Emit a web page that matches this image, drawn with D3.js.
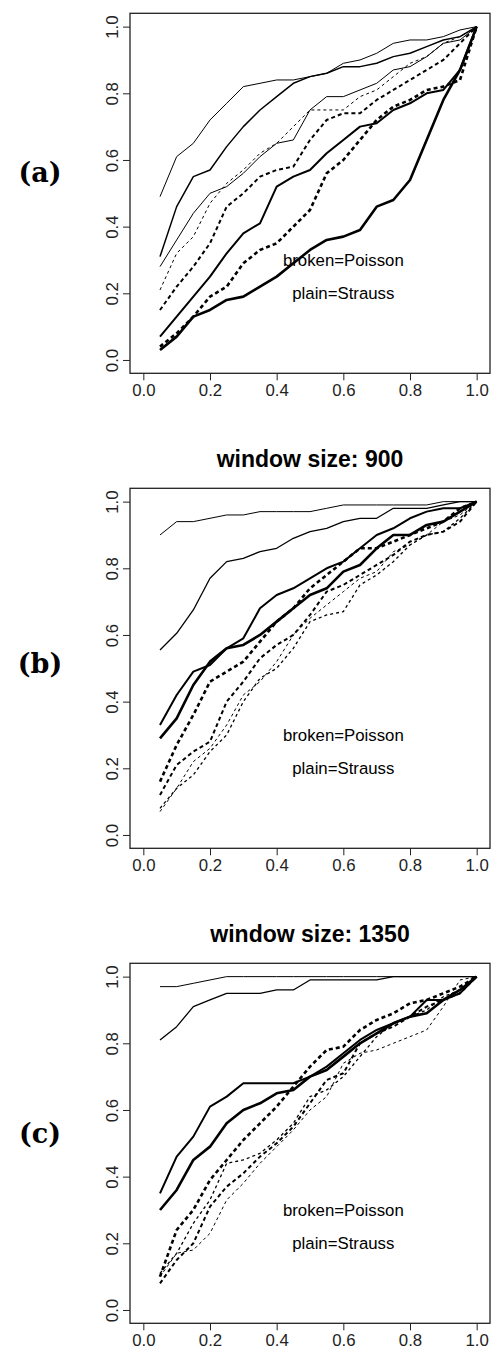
<!DOCTYPE html>
<html lang="en">
  <head>
    <meta charset="UTF-8" />
    <title>Strauss vs Poisson</title>
    <script src="https://d3js.org/d3.v7.min.js"></script>
    <style>
      body { margin: 0; background: #fff; }
      .axis path, .axis line { stroke: #222; }
      .axis text { font-family: 'Liberation Sans', Arial, sans-serif; font-size: 16.8px; fill: #222; }
    </style>
  </head>
  <body>
    <div id="chart-container"></div>
    <script>
      // probability levels on the x axis
      const probs = [0.05, 0.10, 0.15, 0.20, 0.25, 0.30, 0.35, 0.40, 0.45, 0.50,
                     0.55, 0.60, 0.65, 0.70, 0.75, 0.80, 0.85, 0.90, 0.95, 1.00];
      const tickVals = [0.0, 0.2, 0.4, 0.6, 0.8, 1.0];
      const panelLabels = ['(a)', '(b)', '(c)'];
      const panelTitles = ['', 'window size: 900', 'window size: 1350'];

      // panel (a)
      const aStrauss1 = [0.49,0.61,0.65,0.72,0.77,0.82,0.83,0.84,0.84,0.85,0.86,0.89,0.90,0.92,0.95,0.96,0.96,0.97,0.99,1.00];
      const aStrauss2 = [0.31,0.46,0.55,0.57,0.64,0.70,0.75,0.79,0.83,0.85,0.86,0.88,0.88,0.89,0.91,0.92,0.94,0.96,0.97,1.00];
      const aStrauss3 = [0.28,0.36,0.44,0.50,0.52,0.56,0.61,0.65,0.66,0.75,0.79,0.79,0.81,0.83,0.87,0.88,0.91,0.95,0.96,1.00];
      const aStrauss4 = [0.07,0.13,0.19,0.25,0.32,0.38,0.41,0.52,0.55,0.57,0.62,0.66,0.70,0.71,0.75,0.77,0.80,0.81,0.87,1.00];
      const aStrauss5 = [0.03,0.07,0.13,0.15,0.18,0.19,0.22,0.25,0.29,0.33,0.36,0.37,0.39,0.46,0.48,0.54,0.66,0.78,0.87,1.00];
      const aPoisson1 = [0.21,0.32,0.37,0.47,0.53,0.57,0.62,0.65,0.70,0.75,0.75,0.75,0.79,0.81,0.85,0.89,0.91,0.95,0.97,1.00];
      const aPoisson2 = [0.15,0.22,0.28,0.35,0.46,0.50,0.55,0.57,0.58,0.66,0.72,0.74,0.74,0.78,0.81,0.84,0.87,0.90,0.95,1.00];
      const aPoisson3 = [0.04,0.08,0.13,0.19,0.22,0.29,0.33,0.35,0.40,0.45,0.56,0.60,0.66,0.72,0.76,0.78,0.81,0.82,0.84,1.00];

      // panel (b) window size 900
      const bStrauss1 = [0.90,0.94,0.94,0.95,0.96,0.96,0.97,0.97,0.97,0.97,0.98,0.99,0.99,0.99,0.99,0.99,0.99,1.00,1.00,1.00];
      const bStrauss2 = [0.555,0.605,0.675,0.77,0.82,0.83,0.85,0.86,0.89,0.91,0.92,0.94,0.95,0.95,0.98,0.98,0.98,0.99,1.00,1.00];
      const bStrauss3 = [0.33,0.42,0.49,0.51,0.56,0.59,0.68,0.72,0.74,0.77,0.80,0.82,0.86,0.90,0.92,0.95,0.97,0.98,0.98,1.00];
      const bStrauss4 = [0.29,0.35,0.45,0.52,0.56,0.57,0.60,0.64,0.68,0.72,0.74,0.79,0.81,0.86,0.90,0.90,0.93,0.94,0.97,1.00];
      const bPoisson1 = [0.16,0.27,0.36,0.46,0.49,0.52,0.58,0.64,0.68,0.74,0.78,0.82,0.86,0.86,0.88,0.90,0.92,0.94,0.98,1.00];
      const bPoisson2 = [0.12,0.21,0.25,0.28,0.40,0.46,0.53,0.57,0.60,0.66,0.73,0.75,0.78,0.81,0.84,0.88,0.90,0.91,0.94,1.00];
      const bPoisson3 = [0.08,0.14,0.18,0.25,0.30,0.40,0.47,0.50,0.56,0.64,0.66,0.67,0.75,0.78,0.82,0.87,0.90,0.91,0.95,1.00];
      const bPoisson4 = [0.07,0.14,0.22,0.26,0.33,0.42,0.46,0.52,0.60,0.65,0.69,0.73,0.77,0.79,0.85,0.87,0.90,0.94,0.96,1.00];

      // panel (c) window size 1350
      const cStrauss1 = [0.97,0.97,0.98,0.99,1.00,1.00,1.00,1.00,1.00,1.00,1.00,1.00,1.00,1.00,1.00,1.00,1.00,1.00,1.00,1.00];
      const cStrauss2 = [0.81,0.85,0.91,0.93,0.95,0.95,0.95,0.96,0.96,0.99,0.99,0.99,0.99,0.99,1.00,1.00,1.00,1.00,1.00,1.00];
      const cStrauss3 = [0.35,0.46,0.52,0.61,0.64,0.68,0.68,0.68,0.68,0.70,0.73,0.77,0.81,0.84,0.86,0.88,0.93,0.93,0.95,1.00];
      const cStrauss4 = [0.30,0.36,0.45,0.49,0.56,0.60,0.62,0.65,0.66,0.70,0.72,0.76,0.80,0.83,0.86,0.88,0.89,0.93,0.96,1.00];
      const cPoisson1 = [0.10,0.24,0.30,0.39,0.45,0.51,0.56,0.61,0.67,0.73,0.78,0.79,0.84,0.87,0.89,0.92,0.93,0.95,0.97,1.00];
      const cPoisson2 = [0.08,0.15,0.20,0.31,0.37,0.41,0.46,0.50,0.55,0.62,0.69,0.71,0.80,0.83,0.85,0.88,0.91,0.93,0.95,1.00];
      const cPoisson3 = [0.11,0.17,0.26,0.33,0.44,0.45,0.47,0.51,0.56,0.64,0.66,0.70,0.76,0.82,0.86,0.88,0.90,0.94,0.96,1.00];
      const cPoisson4 = [0.10,0.17,0.18,0.23,0.33,0.38,0.44,0.49,0.54,0.60,0.64,0.74,0.77,0.78,0.80,0.82,0.84,0.91,0.99,1.00];

      // line list per panel: [values, width, dashed]
      const panels = [
        [[aStrauss1, 1, false], [aStrauss2, 1.5, false], [aStrauss3, 1, false], [aStrauss4, 2, false],
         [aStrauss5, 2.6, false], [aPoisson1, 1, true], [aPoisson2, 2, true], [aPoisson3, 2.6, true]],
        [[bStrauss1, 1, false], [bStrauss2, 1.3, false], [bStrauss3, 2, false], [bStrauss4, 2.6, false],
         [bPoisson1, 2.6, true], [bPoisson2, 2, true], [bPoisson3, 1.3, true], [bPoisson4, 1, true]],
        [[cStrauss1, 1, false], [cStrauss2, 1.3, false], [cStrauss3, 2, false], [cStrauss4, 2.6, false],
         [cPoisson1, 2.6, true], [cPoisson2, 2, true], [cPoisson3, 1.3, true], [cPoisson4, 1, true]],
      ];

      const boxTops = [13.3, 488.3, 963.3];
      const labelY = [182, 673, 1143];
      const boxLeft = 130, boxSize = 360;

      const svg = d3.select('#chart-container')
        .append('svg')
        .attr('width', 492)
        .attr('height', 1352);

      const x = d3.scaleLinear().domain([-0.04, 1.04]).range([boxLeft, boxLeft + boxSize]);

      panels.forEach(function (lines, i) {
        const top = boxTops[i];
        const y = d3.scaleLinear().domain([-0.04, 1.04]).range([top + boxSize, top]);
        const g = svg.append('g');

        // series
        const line = d3.line()
          .x((d, k) => x(probs[k]))
          .y((d) => y(d));
        lines.forEach(function (s) {
          g.append('path')
            .datum(s[0])
            .attr('d', line)
            .attr('fill', 'none')
            .attr('stroke', '#000')
            .attr('stroke-width', s[1])
            .attr('stroke-linejoin', 'round')
            .attr('stroke-dasharray', s[2] ? (s[1] > 1.5 ? '4,3' : '3,3') : null);
        });

        // box
        g.append('rect')
          .attr('x', boxLeft)
          .attr('y', top)
          .attr('width', boxSize)
          .attr('height', boxSize)
          .attr('fill', 'none')
          .attr('stroke', '#222')
          .attr('stroke-width', 1.3);

        // axes
        const xAxis = g.append('g')
          .attr('class', 'axis')
          .attr('transform', `translate(0,${top + boxSize})`)
          .call(d3.axisBottom(x).tickValues(tickVals).tickFormat(d3.format('.1f')).tickSize(7).tickSizeOuter(0));
        xAxis.select('.domain').remove();
        xAxis.selectAll('text').attr('y', 23).attr('dy', 0);

        const yAxis = g.append('g')
          .attr('class', 'axis')
          .attr('transform', `translate(${boxLeft},0)`)
          .call(d3.axisLeft(y).tickValues(tickVals).tickFormat(d3.format('.1f')).tickSize(7).tickSizeOuter(0));
        yAxis.select('.domain').remove();
        yAxis.selectAll('text')
          .attr('x', 0)
          .attr('dy', 0)
          .attr('text-anchor', 'middle')
          .attr('transform', (d) => `translate(-12.5,0) rotate(-90)`);

        // legend text
        g.append('text')
          .attr('x', x(0.6))
          .attr('y', y(0.3))
          .attr('dy', '0.35em')
          .attr('text-anchor', 'middle')
          .style('font-family', "'Liberation Sans', Arial, sans-serif")
          .style('font-size', '16.8px')
          .text('broken=Poisson');
        g.append('text')
          .attr('x', x(0.6))
          .attr('y', y(0.2))
          .attr('dy', '0.35em')
          .attr('text-anchor', 'middle')
          .style('font-family', "'Liberation Sans', Arial, sans-serif")
          .style('font-size', '16.8px')
          .text('plain=Strauss');

        if (panelTitles[i]) {
          g.append('text')
            .attr('x', boxLeft + boxSize / 2)
            .attr('y', top - 21)
            .attr('text-anchor', 'middle')
            .style('font-family', "'Liberation Sans', Arial, sans-serif")
            .style('font-weight', 'bold')
            .style('font-size', '23px')
            .text(panelTitles[i]);
        }

        // panel letter
        svg.append('text')
          .attr('x', 40)
          .attr('y', labelY[i])
          .attr('text-anchor', 'middle')
          .style('font-family', "'DejaVu Serif', serif")
          .style('font-weight', 'bold')
          .style('font-size', '27px')
          .text(panelLabels[i]);
      });
    </script>
  </body>
</html>
